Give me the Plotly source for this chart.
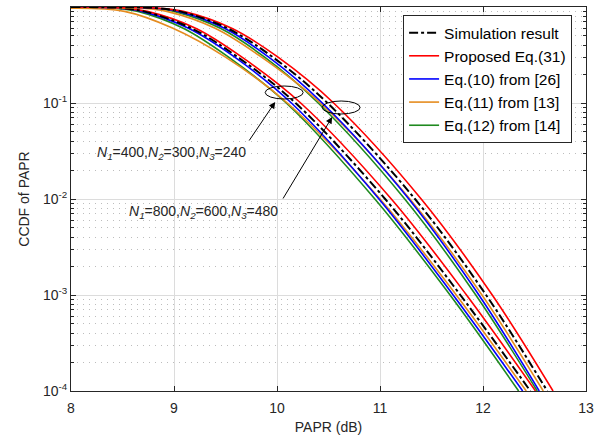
import plotly.graph_objects as go

ccdf_levels = [0.9999, 0.997, 0.97, 0.9, 0.6, 0.3, 0.1, 1e-2, 1e-3, 1e-4]

# Group 1: N1=400, N2=300, N3=240  (PAPR in dB at each CCDF level)
sim_g1 = [8.0, 8.22, 8.49, 8.71, 9.17, 9.62, 10.18, 11.05, 11.78, 12.46]
prop_g1 = [8.0, 8.24, 8.51, 8.74, 9.21, 9.66, 10.23, 11.11, 11.84, 12.51]
eq10_g1 = [8.0, 8.20, 8.47, 8.69, 9.14, 9.59, 10.14, 10.99, 11.71, 12.385]
eq11_g1 = [None, None, 8.0, 8.52, 8.99, 9.50, 10.10, 11.00, 11.74, 12.42]
eq12_g1 = [8.0, 8.17, 8.43, 8.65, 9.09, 9.53, 10.09, 10.95, 11.68, 12.346]

# Group 2: N1=800, N2=600, N3=480
sim_g2 = [8.0, 8.58, 8.84, 9.06, 9.52, 9.96, 10.49, 11.34, 12.03, 12.624]
prop_g2 = [8.0, 8.60, 8.86, 9.09, 9.56, 10.01, 10.55, 11.40, 12.09, 12.68]
eq10_g2 = [8.0, 8.56, 8.82, 9.04, 9.49, 9.92, 10.44, 11.28, 11.96, 12.546]
eq11_g2 = [None, 8.0, 8.70, 8.93, 9.40, 9.85, 10.42, 11.29, 11.99, 12.585]
eq12_g2 = [8.0, 8.54, 8.79, 9.00, 9.45, 9.88, 10.40, 11.24, 11.93, 12.527]

series_names = ["Simulation result", "Proposed Eq.(31)", "Eq.(10) from [26]",
                "Eq.(11) from [13]", "Eq.(12) from [14]"]
y_tick_vals = [1e-4, 1e-3, 1e-2, 1e-1, 1]
y_tick_text = ["10<sup>-4</sup>", "10<sup>-3</sup>", "10<sup>-2</sup>",
               "10<sup>-1</sup>", "10<sup>0</sup>"]
x_tick_vals = [8, 9, 10, 11, 12, 13]
label_g1 = "<i>N<sub>1</sub></i>=400,<i>N<sub>2</sub></i>=300,<i>N<sub>3</sub></i>=240"
label_g2 = "<i>N<sub>1</sub></i>=800,<i>N<sub>2</sub></i>=600,<i>N<sub>3</sub></i>=480"

colors = ["#000000", "#ff0000", "#0000ff", "#e58c1f", "#1f8a1f"]
dashes = ["dashdot", "solid", "solid", "solid", "solid"]
widths = [2, 1.6, 1.6, 1.6, 1.6]

group1 = [sim_g1, prop_g1, eq10_g1, eq11_g1, eq12_g1]
group2 = [sim_g2, prop_g2, eq10_g2, eq11_g2, eq12_g2]

FONT = "Arial, Liberation Sans, Helvetica, sans-serif"
fig = go.Figure()

order = [4, 3, 2, 1, 0]
for gi, grp in enumerate([group1, group2]):
    for i in order:
        fig.add_trace(go.Scatter(
            x=grp[i], y=ccdf_levels, mode="lines",
            name=series_names[i], legendrank=i + 1,
            showlegend=(gi == 0), connectgaps=True,
            line=dict(color=colors[i], width=widths[i], dash=dashes[i],
                      shape="spline", smoothing=1.0),
        ))

minor_vals = [k * 10 ** e for e in range(-4, 0) for k in range(2, 10)]

fig.update_layout(
    width=606, height=441,
    margin=dict(l=71, r=20, t=7, b=50),
    paper_bgcolor="white", plot_bgcolor="white",
    font=dict(family=FONT, size=14, color="#262626"),
    showlegend=True,
    legend=dict(
        x=0.973, y=0.979, xanchor="right", yanchor="top",
        bgcolor="white", bordercolor="#262626", borderwidth=1,
        font=dict(size=15.5, color="#000000"),
        traceorder="normal", tracegroupgap=0,
    ),
    xaxis=dict(
        range=[8, 13], tickvals=x_tick_vals,
        ticks="inside", ticklen=5, tickcolor="#262626",
        ticklabelstandoff=4,
        showline=True, linecolor="#262626", linewidth=1, mirror="allticks",
        showgrid=True, gridcolor="#dcdcdc", gridwidth=1,
        zeroline=False,
        title=dict(text="PAPR (dB)", standoff=7, font=dict(size=14)),
        tickfont=dict(size=14),
    ),
    yaxis=dict(
        type="log", range=[-4, 0],
        tickvals=y_tick_vals, ticktext=y_tick_text,
        ticks="inside", ticklen=5, tickcolor="#262626",
        showline=True, linecolor="#262626", linewidth=1, mirror="allticks",
        showgrid=True, gridcolor="#dcdcdc", gridwidth=1,
        zeroline=False,
        title=dict(text="CCDF of PAPR", standoff=10, font=dict(size=14)),
        tickfont=dict(size=14),
        minor=dict(tickvals=minor_vals, ticks="inside", ticklen=3,
                   tickcolor="#262626", showgrid=True,
                   gridcolor="#bdbdbd", griddash="1px,5px", gridwidth=1),
    ),
)

def px2paper(px, py):
    return (px - 70.7) / 515.3, (391 - py) / 384

# ellipses marking the two curve groups
for (a, b, c, d) in [(265, 86, 303, 99), (322, 101, 360, 114)]:
    x0, y1 = px2paper(a, b)
    x1, y0 = px2paper(c, d)
    fig.add_shape(type="circle", xref="paper", yref="paper",
                  x0=x0, x1=x1, y0=y0, y1=y1,
                  line=dict(color="black", width=1))

# arrows
for (hx, hy, tx, ty) in [(275, 102, 248, 142), (332, 117, 282, 200)]:
    ax_, ay_ = px2paper(hx, hy)
    fig.add_annotation(xref="paper", yref="paper", x=ax_, y=ay_,
                       ax=tx - hx, ay=ty - hy, axref="pixel", ayref="pixel",
                       text="", showarrow=True, arrowhead=2, arrowsize=1.3,
                       arrowwidth=1, arrowcolor="black", standoff=0)

# labels
for (txt, ex, cy) in [(label_g1, 248, 153), (label_g2, 280, 212)]:
    px_, py_ = px2paper(ex, cy)
    fig.add_annotation(xref="paper", yref="paper", x=px_, y=py_,
                       xanchor="right", yanchor="middle", text=txt,
                       showarrow=False, font=dict(size=14, color="#262626"))

fig.write_html("out.html",
               config={"displayModeBar": False},
               post_script="document.body.style.margin='0';"
                           "document.body.style.overflow='hidden';")
